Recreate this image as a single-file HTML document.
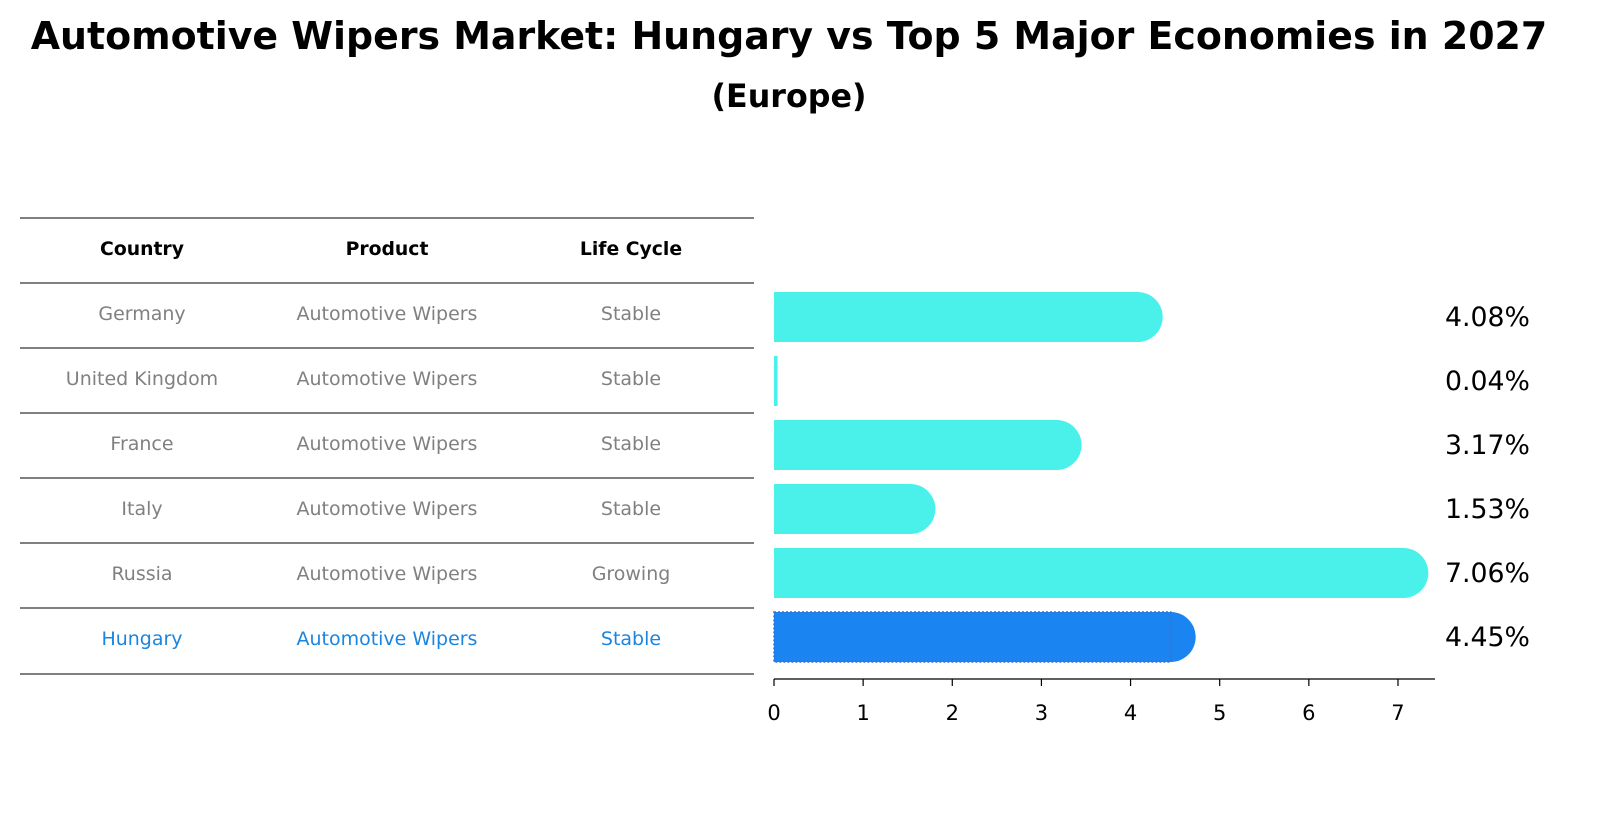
<!DOCTYPE html>
<html><head><meta charset="utf-8"><style>
html,body{margin:0;padding:0;overflow:hidden;background:#fff;font-family:"Liberation Sans","DejaVu Sans",sans-serif;}
svg{display:block;}
svg text{font-family:"DejaVu Sans","Liberation Sans",sans-serif;}
</style></head><body>
<svg width="1605" height="823" viewBox="0 0 1605 823">
<text id="title" x="789" y="49" text-anchor="middle" font-size="28" font-weight="bold">Automotive Wipers Market: Hungary vs Top 5 Major Economies in 2027</text>
<text id="subtitle" x="789" y="107" text-anchor="middle" font-size="24" font-weight="bold">(Europe)</text>
<g id="table"></g>
<g id="bars"></g>
<g id="axis"></g>
</svg>
<script>
const countries=["Germany","United Kingdom","France","Italy","Russia","Hungary"];
const products=["Automotive Wipers","Automotive Wipers","Automotive Wipers","Automotive Wipers","Automotive Wipers","Automotive Wipers"];
const lifecycle=["Stable","Stable","Stable","Stable","Growing","Stable"];
const values=[4.08,0.04,3.17,1.53,7.06,4.45];
const ticks=[0,1,2,3,4,5,6,7];
const NS="http://www.w3.org/2000/svg";
function mk(tag,attrs,parent,txt){const e=document.createElementNS(NS,tag);for(const k in attrs)e.setAttribute(k,attrs[k]);if(txt!==undefined)e.textContent=txt;parent.appendChild(e);return e;}
function fit(el,target){const w=el.getComputedTextLength();if(w>0){const fs=parseFloat(el.getAttribute('font-size'));el.setAttribute('font-size',(fs*target/w).toFixed(2));}}
fit(document.getElementById('title'),1517);
fit(document.getElementById('subtitle'),155);
const x0=774,unit=89.14;
const xs=v=>x0+v*unit;
const rowY=i=>317+i*64;
const tbl=document.getElementById('table');
const lines=[218,283,348,413,478,543,608,674];
lines.forEach(y=>{const l=mk('line',{x1:20,x2:754,y1:y,y2:y,stroke:'#000','stroke-width':1},tbl);

});
const cols=[142,387,631];
const hdrs=[];
["Country","Product","Life Cycle"].forEach((h,j)=>{const t=mk('text',{x:cols[j],y:255,'text-anchor':'middle','font-size':13,'font-weight':'bold'},tbl,h);

hdrs.push(t);});
// scale header font so "Country" ~84px wide
const hs=84/hdrs[0].getComputedTextLength();
hdrs.forEach(t=>t.setAttribute('font-size',(13*hs).toFixed(2)));
const cells=[];let ref=null;
countries.forEach((c,i)=>{const col=i===5?'#1a85e0':'#808080';const y=320+i*65;
[c,products[i],lifecycle[i]].forEach((v,j)=>{const t=mk('text',{x:cols[j],y:y,'text-anchor':'middle','font-size':13.5,fill:col},tbl,v);

cells.push(t);if(j===1&&!ref)ref=t;});});
const cs=181/ref.getComputedTextLength();
cells.forEach(t=>t.setAttribute('font-size',(13.5*cs).toFixed(2)));
const bars=document.getElementById('bars');
const h=50,r=25;
const vlabels=[];
values.forEach((v,i)=>{const cy=rowY(i);const col=i===5?'#1a85f0':'#4af0ea';
const g=mk('g',{},bars);


const w=Math.max(xs(v)-x0,3);
mk('rect',{x:x0,y:cy-h/2,width:w,height:h,fill:col},g);
if(w>r) mk('circle',{cx:xs(v),cy:cy,r:r,fill:col},g);
if(i===5) mk('rect',{x:x0,y:cy-h/2,width:w,height:h,fill:'none',stroke:'#3a70d0','stroke-width':1.5,'stroke-dasharray':'2 2'},g);
const t=mk('text',{x:1445,y:cy+9,'font-size':22},bars,v.toFixed(2)+'%');

vlabels.push(t);});
const vs=85/vlabels[0].getComputedTextLength();
vlabels.forEach(t=>t.setAttribute('font-size',(22*vs).toFixed(2)));
const ax=document.getElementById('axis');
mk('line',{x1:x0,x2:1435,y1:679,y2:679,stroke:'#000','stroke-width':1.3},ax);
ticks.forEach(t=>{mk('line',{x1:xs(t),x2:xs(t),y1:679,y2:686,stroke:'#000','stroke-width':1.2},ax);
const tx=mk('text',{x:xs(t),y:720,'text-anchor':'middle','font-size':21},ax,String(t));

});
</script>
</body></html>
